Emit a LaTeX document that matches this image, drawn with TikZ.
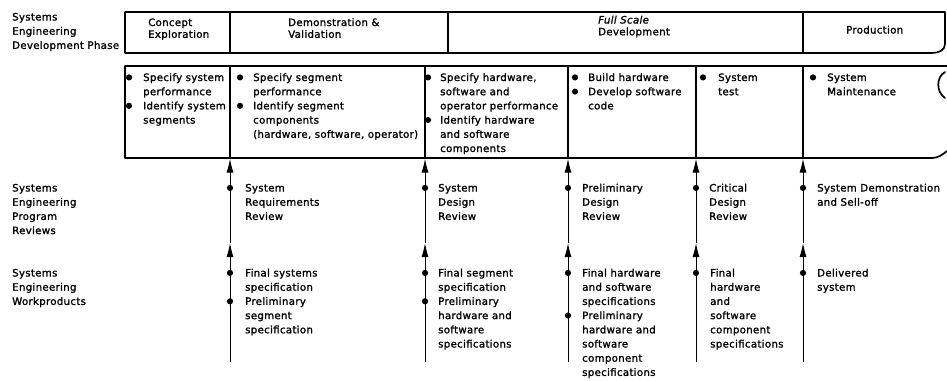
\documentclass[tikz,border=0pt]{standalone}
\usepackage{fontspec}
\setmainfont{DejaVu Sans}[LetterSpace=3, FakeBold=1.4]
\usetikzlibrary{arrows.meta}
% a block of left-aligned lines whose baseline is that of its first line
\newcommand{\txt}[1]{\parbox[t]{8cm}{\raggedright #1}}

\begin{document}
\begin{tikzpicture}[x=1pt,y=-1pt,
  lbl/.style={anchor=base west, inner sep=0pt, font=\fontsize{10.2}{14.2}\selectfont},
  hdr/.style={anchor=base west, inner sep=0pt, font=\fontsize{10.2}{11.8}\selectfont},
  frame/.style={line width=1.7pt, line join=round, line cap=round},
  divider/.style={line width=1.7pt},
  flow/.style={line width=1pt, -{Latex[length=14pt,width=7pt]}},
  dot/.style={fill=black}]
\useasboundingbox (0,0) rectangle (947,380);

% ---------------- row labels ----------------
\node[lbl] (lPhase) at (12,20.5) {\txt{Systems\\Engineering\\Development Phase}};
\node[lbl] (lRev)   at (12,191.5) {\txt{Systems\\Engineering\\Program\\Reviews}};
\node[lbl] (lWork)  at (12,276.5) {\txt{Systems\\Engineering\\Workproducts}};

% ---------------- phase bar ----------------
\draw[frame] (945,12) -- (125,12) -- (125,53) -- (932,53)
  .. controls (939,53) and (945,50) .. (945,44) -- cycle;
\foreach \x in {230,448,803} \draw[divider] (\x,12) -- (\x,53);

\node[hdr] (hConcept) at (148,26)   {\txt{Concept\\Exploration}};
\node[hdr] (hDemo)    at (288,26)   {\txt{Demonstration \&\\Validation}};
\node[hdr] (hFull)    at (598,23.5) {\txt{\itshape Full Scale\\\upshape Development}};
\node[hdr] (hProd)    at (846,33.5) {\txt{Production}};

% ---------------- activity band ----------------
\draw[frame] (947,66) -- (125,66) -- (125,158) -- (932,158)
  .. controls (938,158) and (942,155) .. (947,151);
\draw[frame] (945,72) .. controls (936,77) and (936,92) .. (945,98);
\foreach \x in {230,425,568,696,803} \draw[divider] (\x,66) -- (\x,158);

\node[lbl] (a1) at (143,81) {\txt{Specify system\\performance\\Identify system\\segments}};
\node[lbl] (a2) at (253,81) {\txt{Specify segment\\performance\\Identify segment\\components\\(hardware, software, operator)}};
\node[lbl] (a3) at (440,81) {\txt{Specify hardware,\\software and\\operator performance\\Identify hardware\\and software\\components}};
\node[lbl] (a4) at (588,81) {\txt{Build hardware\\Develop software\\code}};
\node[lbl] (a5) at (718,81) {\txt{System\\test}};
\node[lbl] (a6) at (827,81) {\txt{System\\Maintenance}};

\foreach \p in {(129,77.4),(129,105.8),(240,77.4),(240,105.8),(428,77.4),(428,120),
                (575,77.4),(575,91.6),(703,77.4),(813,77.4)}
  \fill[dot] \p circle (3.1);

% ---------------- reviews ----------------
\node[lbl] (r1) at (245,191.5) {\txt{System\\Requirements\\Review}};
\node[lbl] (r2) at (438,191.5) {\txt{System\\Design\\Review}};
\node[lbl] (r3) at (582,191.5) {\txt{Preliminary\\Design\\Review}};
\node[lbl] (r4) at (709,191.5) {\txt{Critical\\Design\\Review}};
\node[lbl] (r5) at (817,191.5) {\txt{System Demonstration\\and Sell-off}};

% ---------------- workproducts ----------------
\node[lbl] (w1) at (245,276.5) {\txt{Final systems\\specification\\Preliminary\\segment\\specification}};
\node[lbl] (w2) at (438,276.5) {\txt{Final segment\\specification\\Preliminary\\hardware and\\software\\specifications}};
\node[lbl] (w3) at (582,276.5) {\txt{Final hardware\\and software\\specifications\\Preliminary\\hardware and\\software\\component\\specifications}};
\node[lbl] (w4) at (710,276.5) {\txt{Final\\hardware\\and\\software\\component\\specifications}};
\node[lbl] (w5) at (817,276.5) {\txt{Delivered\\system}};

% ---------------- feed lines: workproduct -> review -> phase ----------------
\foreach \i/\x in {1/230,2/425,3/568,4/696,5/803}{
  \coordinate (foot\i) at (\x,362);
  \coordinate (gate\i) at (\x,243);
  \coordinate (band\i) at (\x,158.6);
  \draw[flow] (foot\i) -- (gate\i);
  \draw[flow] (gate\i) -- (band\i);
  \fill[dot] (\x,187.9) circle (3.1);
  \fill[dot] (\x,272.9) circle (3.1);
}
\foreach \p in {(230,301.3),(425,301.3),(568,315.5)}
  \fill[dot] \p circle (3.1);
\end{tikzpicture}
\end{document}
